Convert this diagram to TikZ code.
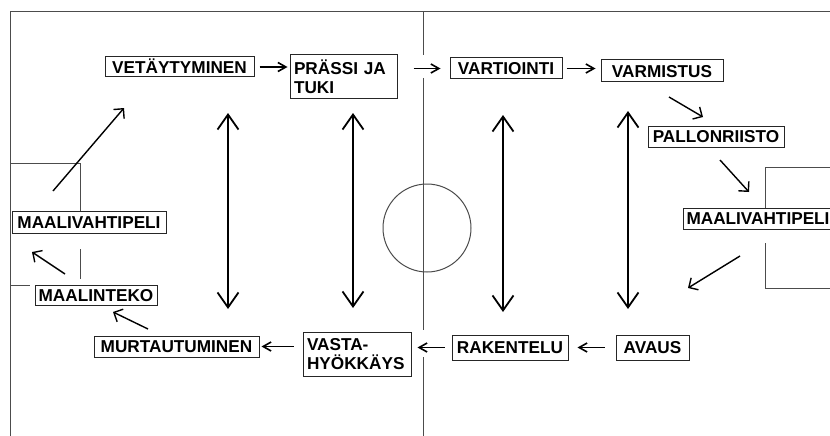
\documentclass[tikz,border=0pt]{standalone}
\usepackage{fontspec}
\setmainfont{Liberation Sans}
\usetikzlibrary{arrows.meta}
\begin{document}
\begin{tikzpicture}[x=1pt,y=-1pt,
  field/.style={draw=black!70, line width=1pt},
  box/.style={draw=black!85, line width=1pt, fill=white, inner sep=0pt,
    font=\bfseries\fontsize{17.2}{20}\selectfont, text height=12.3pt, text depth=0pt},
  tbox/.style={draw=black!85, line width=1pt, fill=white, inner xsep=4pt, inner ysep=0pt,
    font=\bfseries\fontsize{17.2}{19.5}\selectfont, align=left},
  harr/.style={line width=1.6pt, -{Straight Barb[length=8pt,width=9pt]}},
  varr/.style={line width=1.8pt, {Straight Barb[length=15pt,width=21pt]}-{Straight Barb[length=15pt,width=21pt]}},
  darr/.style={line width=1.4pt, -{Straight Barb[length=7pt,width=14pt]}},
]
\useasboundingbox (0,0) rectangle (830,436);
\fill[white] (0,0) rectangle (830,436);

% field
\draw[field] (10,436) -- (10,12) -- (830,12);
\draw[field] (423,12) -- (423,55);
\draw[field] (423,78) -- (423,330);
\draw[field] (423,357) -- (423,436);
\draw[field] (427,228) circle[radius=44pt];
\draw[field] (10,163) -- (80,163) -- (80,211);
\draw[field] (80,249) -- (80,279);
\draw[field] (10,285) -- (30,285);
\draw[field] (830,167) -- (765,167) -- (765,208);
\draw[field] (765,243) -- (765,288) -- (830,288);

% boxes
\node[box, minimum width=149pt, minimum height=20pt] (vet) at (179.5,67) {VETÄYTYMINEN};
\node[tbox, text width=99pt, minimum height=43pt] (pr) at (343.5,76.5) {PRÄSSI JA\\TUKI};
\node[box, minimum width=112pt, minimum height=21pt] (vart) at (506,68.5) {VARTIOINTI};
\node[box, minimum width=122pt, minimum height=22pt] (varm) at (662,71) {VARMISTUS};
\node[box, minimum width=136pt, minimum height=21pt] (pall) at (716,136.5) {PALLONRIISTO};
\node[box, anchor=west, minimum height=21pt, inner xsep=3pt] (mvr) at (683,218.5) {MAALIVAHTIPELI};
\node[box, minimum width=154pt, minimum height=22pt] (mvl) at (89,222) {MAALIVAHTIPELI};
\node[box, minimum width=122pt, minimum height=20pt] (mte) at (96,295) {MAALINTEKO};
\node[box, minimum width=165pt, minimum height=21pt] (murt) at (176.5,346.5) {MURTAUTUMINEN};
\node[tbox, text width=100pt, minimum height=44pt] (vas) at (357,354) {VASTA-\\HYÖKKÄYS};
\node[box, minimum width=116pt, minimum height=25pt] (rak) at (510,347.5) {RAKENTELU};
\node[box, minimum width=73pt, minimum height=25pt] (av) at (652.5,347.5) {AVAUS};

% horizontal arrows
\draw[harr] ([xshift=5pt]vet.east) -- ([xshift=-2pt]vet.east -| pr.west);
\draw[harr] ([xshift=16pt]pr.east |- vart.west) -- ([xshift=-9pt]vart.west);
\draw[harr] ([xshift=4pt]vart.east) -- ([xshift=-5pt]vart.east -| varm.west);
\draw[harr] ([xshift=-11pt]av.west) -- ([xshift=9pt]av.west -| rak.east);
\draw[harr] ([xshift=-7pt]rak.west) -- ([xshift=6pt]rak.west -| vas.east);
\draw[harr] ([xshift=-9pt]vas.west |- murt.east) -- ([xshift=2pt]murt.east);

% vertical double arrows
\coordinate (v1t) at (228,113); \coordinate (v1b) at (228,309);
\coordinate (v2t) at (353,113); \coordinate (v2b) at (353,308);
\coordinate (v3t) at (503,115); \coordinate (v3b) at (503,312);
\coordinate (v4t) at (628,111); \coordinate (v4b) at (628,309);
\draw[varr] (v1t) -- (v1b);
\draw[varr] (v2t) -- (v2b);
\draw[varr] (v3t) -- (v3b);
\draw[varr] (v4t) -- (v4b);

% diagonal arrows
\coordinate (d1s) at (148,329); \coordinate (d1e) at (113,312);
\coordinate (d2s) at (65,274);  \coordinate (d2e) at (32,252);
\coordinate (d3s) at (53,191);  \coordinate (d3e) at (124,108);
\coordinate (d4s) at (669,97);  \coordinate (d4e) at (703,117);
\coordinate (d5s) at (720,160); \coordinate (d5e) at (749,192);
\coordinate (d6s) at (740,256); \coordinate (d6e) at (688,288);
\draw[darr] (d1s) -- (d1e);
\draw[darr] (d2s) -- (d2e);
\draw[darr] (d3s) -- (d3e);
\draw[darr] (d4s) -- (d4e);
\draw[darr] (d5s) -- (d5e);
\draw[darr] (d6s) -- (d6e);
\end{tikzpicture}
\end{document}
